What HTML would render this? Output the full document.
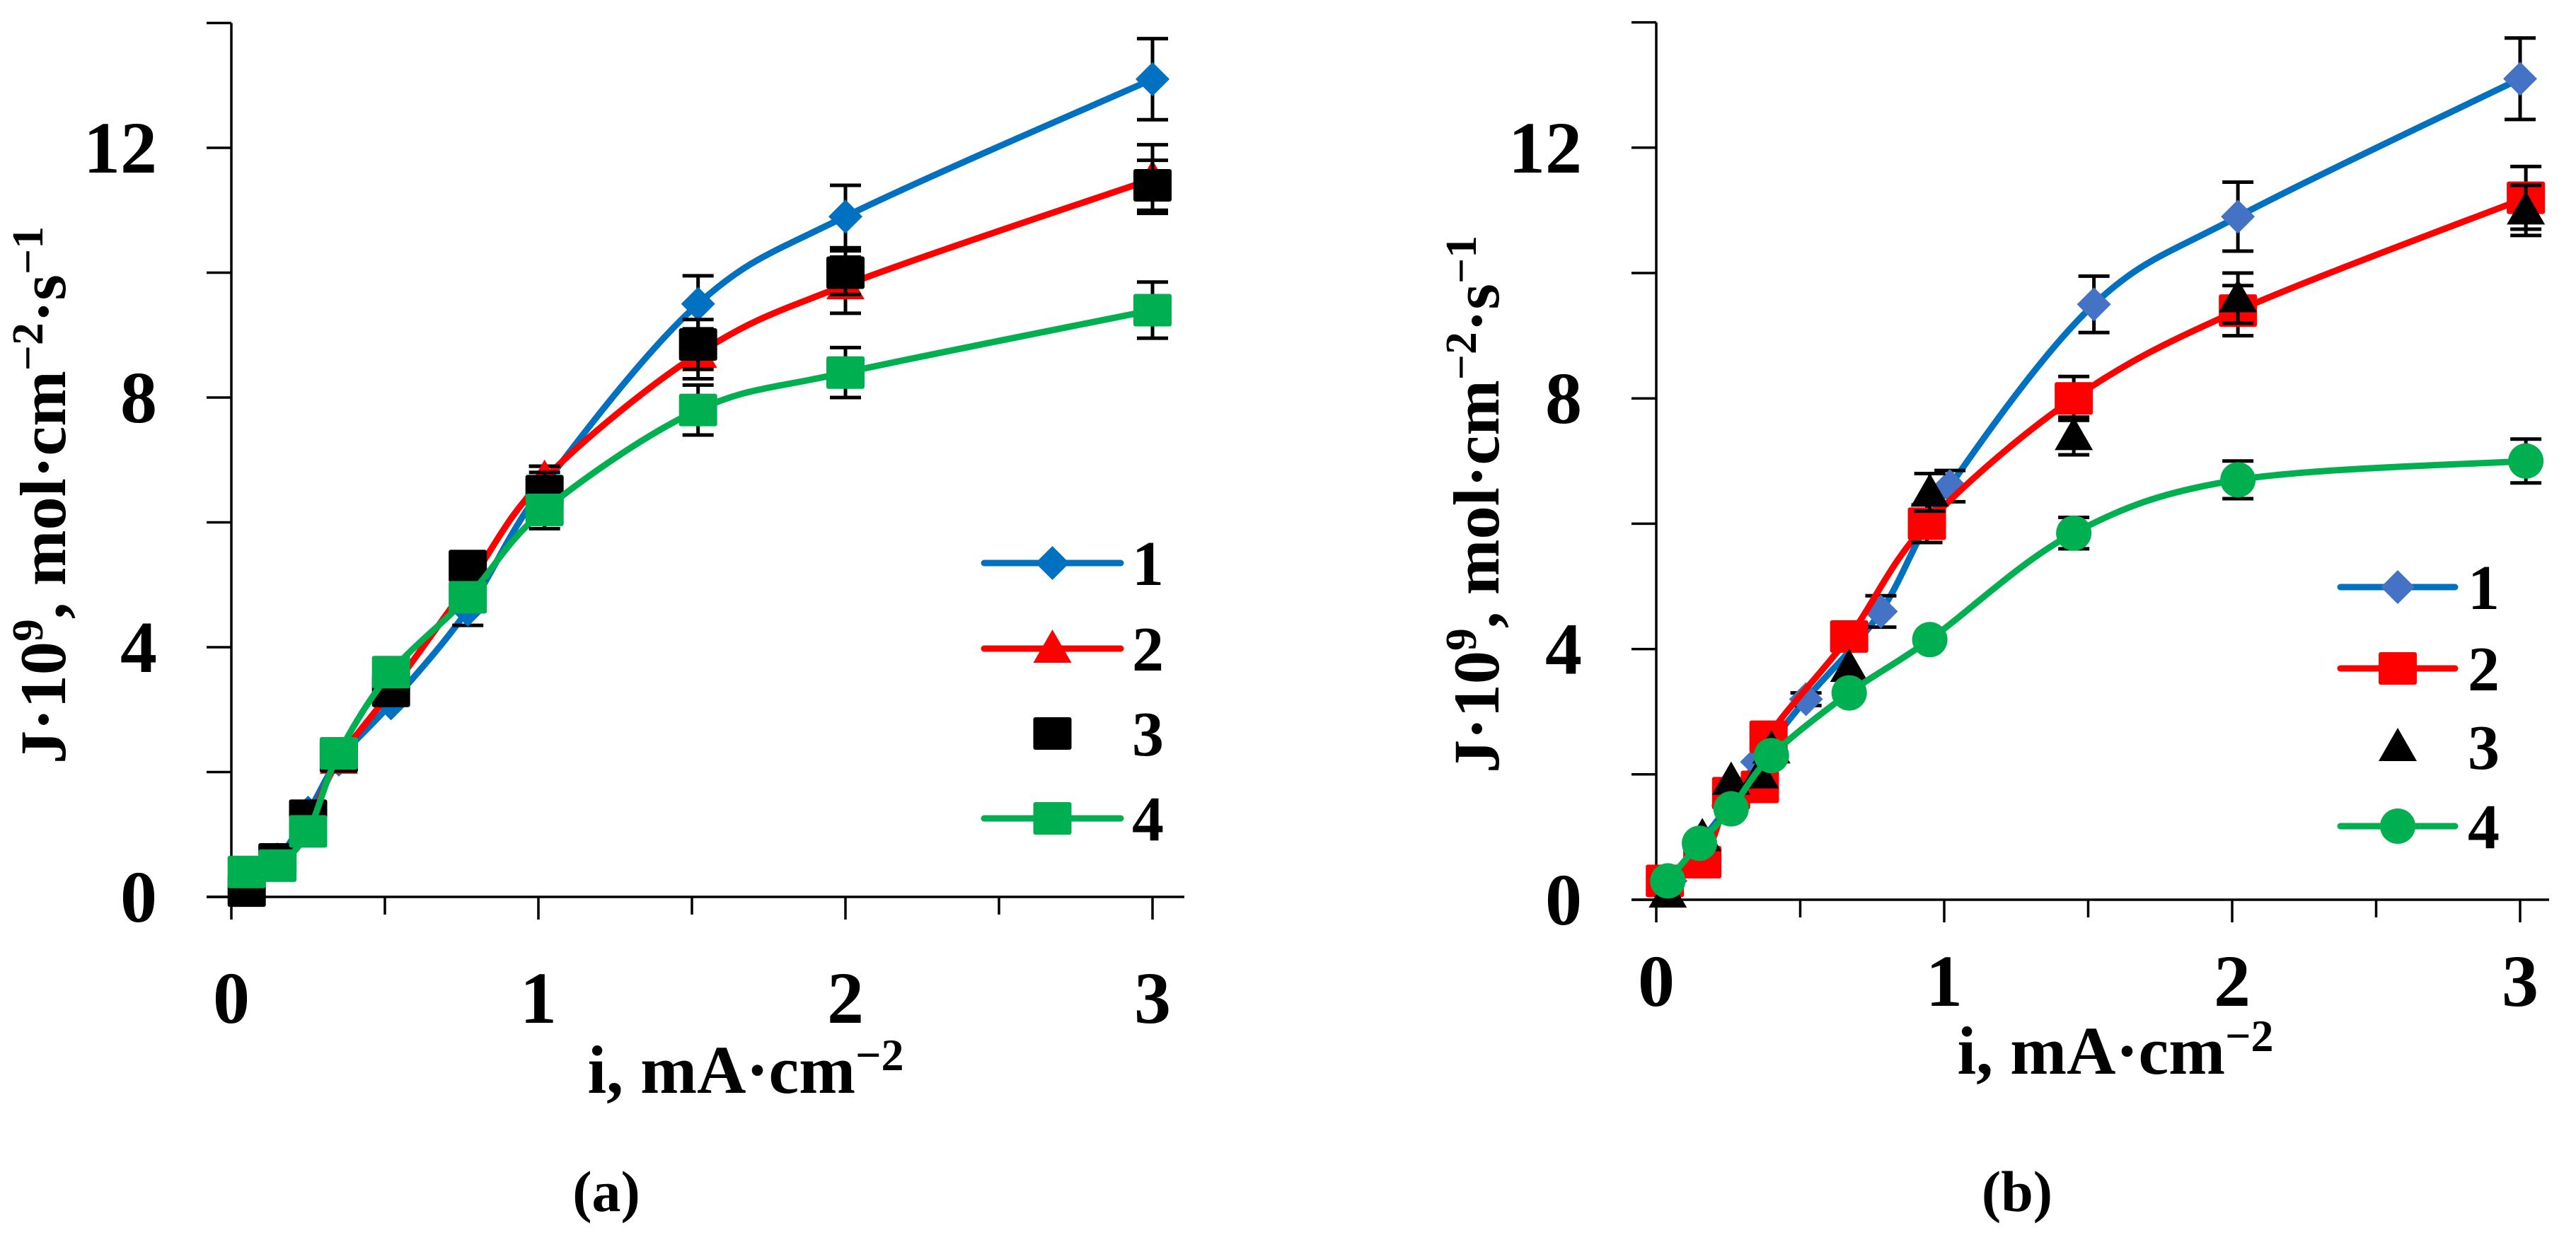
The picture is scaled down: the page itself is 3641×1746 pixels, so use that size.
<!DOCTYPE html>
<html><head><meta charset="utf-8"><style>
html,body{margin:0;padding:0;background:#fff}
svg{display:block}
text{font-family:"Liberation Serif",serif;font-weight:bold;fill:#000}
</style></head><body>
<svg id="fig" width="3641" height="1746" viewBox="0 0 3641 1746" xmlns="http://www.w3.org/2000/svg"></svg>
<script>
// ---- Panel (a) data ----
const a1x=[0.05,0.15,0.25,0.35,0.52,0.77,1.02,1.52,2.0,3.0];
const a1y=[0.3,0.6,1.35,2.2,3.1,4.6,6.6,9.5,10.9,13.1];
const a1e=[0,0,0,0,0,0.25,0.3,0.45,0.5,0.65];
const a2x=[0.05,0.15,0.25,0.35,0.52,0.77,1.02,1.52,2.0,3.0];
const a2y=[0.2,0.55,1.2,2.2,3.3,5.0,6.7,8.7,9.8,11.5];
const a2e=[0,0,0,0,0,0,0.2,0.4,0.45,0.55];
const a3x=[0.05,0.15,0.25,0.35,0.52,0.77,1.02,1.52,2.0,3.0];
const a3y=[0.1,0.6,1.3,2.25,3.3,5.3,6.5,8.85,10.0,11.4];
const a3e=[0,0,0,0,0,0,0.3,0.4,0.35,0.4];
const a4x=[0.05,0.15,0.25,0.35,0.52,0.77,1.02,1.52,2.0,3.0];
const a4y=[0.4,0.5,1.05,2.3,3.6,4.8,6.2,7.8,8.4,9.4];
const a4e=[0,0,0,0,0,0,0.3,0.4,0.4,0.45];
// ---- Panel (b) data ----
const b1x=[0.05,0.15,0.25,0.35,0.52,0.78,1.02,1.52,2.02,3.0];
const b1y=[0.3,0.9,1.5,2.2,3.2,4.6,6.6,9.5,10.9,13.1];
const b1e=[0,0,0,0,0.1,0.25,0.25,0.45,0.55,0.65];
const b2x=[0.03,0.16,0.26,0.36,0.39,0.67,0.94,1.45,2.02,3.02];
const b2y=[0.3,0.6,1.7,1.8,2.6,4.2,6.0,8.0,9.4,11.2];
const b2e=[0,0,0,0,0,0,0.3,0.35,0.4,0.5];
const b3x=[0.04,0.16,0.26,0.36,0.4,0.67,0.95,1.45,2.02,3.02];
const b3y=[0.1,1.0,1.9,2.0,2.4,3.7,6.5,7.4,9.6,11.0];
const b3e=[0,0,0,0,0,0,0.3,0.3,0.4,0.4];
const b4x=[0.04,0.15,0.26,0.4,0.67,0.95,1.45,2.02,3.02];
const b4y=[0.3,0.9,1.45,2.3,3.3,4.15,5.85,6.7,7.0];
const b4e=[0,0,0,0,0,0,0.25,0.3,0.35];
const xTicks=[0,1,2,3];
const yTicks=[0,4,8,12];
const legendLabels=["1","2","3","4"];

const NS="http://www.w3.org/2000/svg";
const svg=document.getElementById('fig');
function el(tag,attrs,parent){const e=document.createElementNS(NS,tag);for(const k in attrs)e.setAttribute(k,attrs[k]);(parent||svg).appendChild(e);return e;}

function panel(P){
  const g=el('g',{});
  
  
  const X=v=>P.x0+v*P.xs, Y=v=>P.y0-v*P.ys;
  const ax=el('line',{x1:P.x0,y1:Y(14),x2:P.x0,y2:P.y0,stroke:'#000','stroke-width':3.5},g);
  
  const bx=el('line',{x1:P.x0-35,y1:P.y0,x2:P.xEnd,y2:P.y0,stroke:'#000','stroke-width':3.5},g);
  
  for(let v=0;v<=14;v+=2){el('line',{x1:P.x0-35,y1:Y(v),x2:P.x0,y2:Y(v),stroke:'#000','stroke-width':3.5},g);}
  for(let v=0;v<=3;v+=0.5){el('line',{x1:X(v),y1:P.y0,x2:X(v),y2:P.y0+(v%1===0?32:25),stroke:'#000','stroke-width':3.5},g);}
  yTicks.forEach(v=>{const t=el('text',{x:P.ylabR,y:Y(v)+35,'text-anchor':'end','font-size':104},g);t.textContent=v;
    });
  xTicks.forEach(v=>{const t=el('text',{x:X(v),y:P.xlabY,'text-anchor':'middle','font-size':104},g);t.textContent=v;
    });
  const yt=el('text',{x:0,y:0,'text-anchor':'middle','font-size':92,transform:`translate(${P.ytX},${P.ytY}) rotate(-90)`,textLength:760,lengthAdjust:'spacingAndGlyphs'},g);
  yt.innerHTML='J·10<tspan dy="-32" font-size="62">9</tspan><tspan dy="32">, mol·cm</tspan><tspan dy="-32" font-size="62">−2</tspan><tspan dy="32">·s</tspan><tspan dy="-32" font-size="62">−1</tspan>';
  
  const xt=el('text',{x:P.xtX,y:P.xtY,'text-anchor':'middle','font-size':96},g);
  xt.innerHTML='i, mA·cm<tspan dy="-32" font-size="64">−2</tspan>';
  
  const cap=el('text',{x:P.capX,y:1712,'text-anchor':'middle','font-size':82,'font-weight':'normal'},g);
  cap.innerHTML='(<tspan font-weight="bold">'+P.cap+'</tspan>)';
  
  P.series.forEach((s,si)=>{
    const sg=el('g',{},g);
    
    
    const pts=s.x.map((v,i)=>[X(v),Y(s.y[i])]);
    if(s.line){
      let d='M'+pts[0][0]+','+pts[0][1];
      for(let i=0;i<pts.length-1;i++){
        const p0=pts[Math.max(0,i-1)],p1=pts[i],p2=pts[i+1],p3=pts[Math.min(pts.length-1,i+2)];
        const t=0.5/3;
        d+=` C${p1[0]+(p2[0]-p0[0])*t},${p1[1]+(p2[1]-p0[1])*t} ${p2[0]-(p3[0]-p1[0])*t},${p2[1]-(p3[1]-p1[1])*t} ${p2[0]},${p2[1]}`;
      }
      const ln=el('path',{d:d,fill:'none',stroke:s.lc,'stroke-width':9,'stroke-linecap':'round','stroke-linejoin':'round'},sg);
      
    }
    s.x.forEach((v,i)=>{
      if(s.e[i]>0){
        const cx=X(v),t=Y(s.y[i]+s.e[i]),b=Y(s.y[i]-s.e[i]);
        const eb=el('path',{d:`M${cx},${t}V${b}M${cx-22},${t}H${cx+22}M${cx-22},${b}H${cx+22}`,stroke:'#000','stroke-width':5,fill:'none'},sg);
        
      }
    });
    pts.forEach(p=>{const m=marker(s.m,p[0],p[1],s.mc,sg);});
  });
  P.series.forEach((s,i)=>{
    const ly=P.legY[i];
    const lg=el('g',{},g);
    
    
    if(s.line) el('line',{x1:P.legX1,y1:ly,x2:P.legX2,y2:ly,stroke:s.lc,'stroke-width':9,'stroke-linecap':'round'},lg);
    marker(s.m,(P.legX1+P.legX2)/2,ly,s.mc,lg);
    const t=el('text',{x:P.legT,y:ly+31,'font-size':90},lg);t.textContent=legendLabels[i];
  });
}
function marker(type,x,y,c,parent){
  if(type==='diamond') return el('path',{d:`M${x},${y-24}L${x+24},${y}L${x},${y+24}L${x-24},${y}Z`,fill:c},parent);
  if(type==='square') return el('rect',{x:x-27,y:y-23,width:54,height:46,rx:3,fill:c},parent);
  if(type==='triangle') return el('path',{d:`M${x},${y-27}L${x+27},${y+20}L${x-27},${y+20}Z`,fill:c},parent);
  return el('circle',{cx:x,cy:y,r:25,fill:c},parent);
}
const BLUE='#0070C0',RED='#FF0000',GREEN='#00B050';
panel({name:'panel-a',x0:327,xs:434,y0:1268,ys:88.25,xEnd:1674,ylabR:222,xlabY:1446,
  ytX:92,ytY:700,xtX:1054,xtY:1545,capX:857,cap:'a',
  legX1:1391,legX2:1584,legT:1600,legY:[796,917,1037,1157],
  series:[
   {x:a1x,y:a1y,e:a1e,line:true,lc:BLUE,mc:BLUE,m:'diamond'},
   {x:a2x,y:a2y,e:a2e,line:true,lc:RED,mc:RED,m:'triangle'},
   {x:a3x,y:a3y,e:a3e,line:false,lc:'#000',mc:'#000',m:'square'},
   {x:a4x,y:a4y,e:a4e,line:true,lc:GREEN,mc:GREEN,m:'square'}]});
panel({name:'panel-b',x0:2341,xs:407,y0:1272,ys:88.6,xEnd:3603,ylabR:2236,xlabY:1422,
  ytX:2118,ytY:713,xtX:2990,xtY:1518,capX:2851,cap:'b',
  legX1:3308,legX2:3470,legT:3488,legY:[830,945,1056,1168],
  series:[
   {x:b1x,y:b1y,e:b1e,line:true,lc:BLUE,mc:'#4472C4',m:'diamond'},
   {x:b2x,y:b2y,e:b2e,line:true,lc:RED,mc:RED,m:'square'},
   {x:b3x,y:b3y,e:b3e,line:false,lc:'#000',mc:'#000',m:'triangle'},
   {x:b4x,y:b4y,e:b4e,line:true,lc:GREEN,mc:GREEN,m:'circle'}]});
</script>
</body></html>
